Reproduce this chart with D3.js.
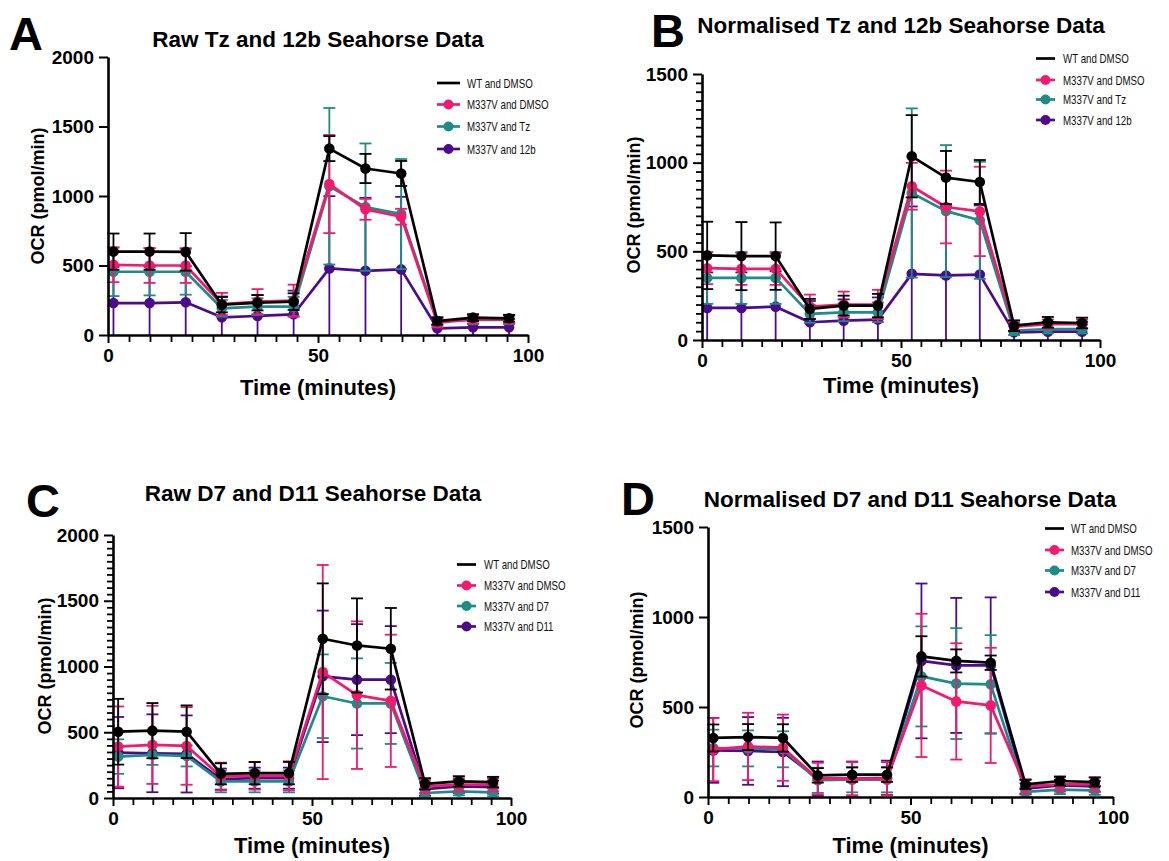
<!DOCTYPE html>
<html>
<head>
<meta charset="utf-8">
<script src="https://cdn.jsdelivr.net/npm/d3@7"></script>
<style>
  body { margin: 0; background: #fff; }
  svg { display: block; }
  text { font-family: "Liberation Sans", Arial, Helvetica, sans-serif; }
</style>
</head>
<body>
<svg id="fig" width="1169" height="861"></svg>
<script>
// Measurement times (minutes)
const times = [1.3, 9.9, 18.5, 27.1, 35.6, 44.2, 52.7, 61.3, 69.8, 78.4, 86.9, 95.5];

// A: raw OCR, Tz / 12b experiment (mean and error)
const aWt      = [600, 600, 598, 218, 232, 240, 1341, 1198, 1162, 100, 125, 120];
const aWtErr   = [130, 130, 135, 55, 55, 60, 90, 105, 90, 25, 25, 25];
const aDmso    = [505, 500, 500, 223, 240, 247, 1086, 904, 851, 89, 113, 113];
const aDmsoErr = [125, 125, 125, 80, 90, 115, 353, 75, 57, 35, 30, 30];
const aTz      = [455, 455, 455, 192, 204, 204, 1070, 920, 870, 100, 108, 108];
const aTzErr   = [175, 170, 165, 60, 60, 70, 563, 458, 396, 30, 30, 30];
const a12b     = [230, 230, 235, 127, 137, 149, 479, 462, 472, 48, 55, 55];
const a12bErr  = [260, 260, 260, 150, 150, 170, 520, 525, 522, 60, 60, 60];

// B: normalised OCR, Tz / 12b experiment
const bWt      = [477, 473, 473, 175, 194, 194, 1036, 916, 891, 81, 100, 96];
const bWtErr   = [190, 192, 190, 57, 56, 66, 232, 150, 124, 30, 30, 30];
const bDmso    = [405, 401, 401, 188, 200, 200, 867, 750, 725, 75, 90, 90];
const bDmsoErr = [90, 90, 90, 68, 73, 83, 132, 205, 252, 25, 25, 25];
const bTz      = [350, 350, 350, 147, 156, 156, 829, 727, 675, 53, 62, 62];
const bTzErr   = [146, 146, 146, 50, 50, 55, 477, 372, 330, 25, 25, 25];
const b12b     = [181, 181, 188, 100, 109, 115, 373, 364, 369, 43, 47, 47];
const b12bErr  = [200, 200, 200, 120, 120, 125, 380, 390, 390, 55, 55, 55];

// C: raw OCR, D7 / D11 experiment
const cWt      = [504, 512, 504, 184, 189, 189, 1211, 1160, 1135, 108, 126, 121];
const cWtErr   = [250, 210, 200, 80, 85, 85, 421, 358, 310, 43, 40, 40];
const cDmso    = [391, 404, 396, 164, 169, 169, 958, 782, 739, 88, 101, 101];
const cDmsoErr = [305, 297, 295, 105, 105, 110, 814, 561, 503, 50, 50, 50];
const cD7      = [315, 328, 320, 126, 126, 126, 774, 719, 719, 38, 50, 43];
const cD7Err   = [131, 76, 80, 83, 83, 83, 318, 343, 308, 30, 30, 30];
const cD11     = [345, 340, 335, 144, 151, 151, 925, 900, 900, 68, 88, 83];
const cD11Err  = [271, 296, 293, 80, 80, 80, 500, 422, 407, 50, 50, 50];

// D: normalised OCR, D7 / D11 experiment
const dWt      = [328, 333, 328, 120, 124, 124, 781, 756, 746, 70, 89, 83];
const dWtErr   = [75, 72, 76, 40, 40, 40, 112, 64, 40, 25, 25, 25];
const dDmso    = [263, 281, 274, 102, 102, 102, 620, 531, 509, 59, 70, 70];
const dDmsoErr = [175, 187, 184, 88, 92, 92, 398, 323, 320, 40, 40, 40];
const dD7      = [272, 270, 265, 93, 96, 96, 670, 630, 626, 28, 41, 37];
const dD7Err   = [102, 100, 100, 70, 70, 70, 278, 308, 273, 25, 25, 25];
const dD11     = [259, 256, 250, 102, 102, 107, 756, 731, 731, 46, 65, 59];
const dD11Err  = [180, 188, 190, 95, 95, 95, 430, 375, 378, 30, 30, 30];

// Labels and ticks
const legendTz = ["WT and DMSO", "M337V and DMSO", "M337V and Tz", "M337V and 12b"];
const legendD  = ["WT and DMSO", "M337V and DMSO", "M337V and D7", "M337V and D11"];
const xTicks = [0, 50, 100];
const yTicksRaw = [0, 500, 1000, 1500, 2000];
const yTicksNorm = [0, 500, 1000, 1500];
const colors = ["#000000", "#f2196e", "#1d8b86", "#4a0b8c"];

const panels = [
  { letter: "A", title: "Raw Tz and 12b Seahorse Data",
    means: [aWt, aDmso, aTz, a12b], errs: [aWtErr, aDmsoErr, aTzErr, a12bErr],
    labels: legendTz, yMax: 2000, yTicks: yTicksRaw, yMinor: false,
    x0: 108, x1: 528, y0: 335, y1: 57,
    titleX: 318, titleY: 47, letterX: 9, letterY: 50, xLabY: 395, yLabX: 44, yLabY: 196,
    leg: { x0: 437, x1: 460, tx: 467, ys: [83, 104.5, 126.5, 149] } },
  { letter: "B", title: "Normalised Tz and 12b Seahorse Data",
    means: [bWt, bDmso, bTz, b12b], errs: [bWtErr, bDmsoErr, bTzErr, b12bErr],
    labels: legendTz, yMax: 1500, yTicks: yTicksNorm, yMinor: true,
    x0: 702, x1: 1100, y0: 340, y1: 74,
    titleX: 901, titleY: 33, letterX: 651, letterY: 47, xLabY: 393, yLabX: 640, yLabY: 205,
    leg: { x0: 1036, x1: 1055, tx: 1063, ys: [58.5, 80, 99.5, 120] } },
  { letter: "C", title: "Raw D7 and D11 Seahorse Data",
    means: [cWt, cDmso, cD7, cD11], errs: [cWtErr, cDmsoErr, cD7Err, cD11Err],
    labels: legendD, yMax: 2000, yTicks: yTicksRaw, yMinor: true,
    x0: 113, x1: 511, y0: 798, y1: 535,
    titleX: 313, titleY: 501, letterX: 26, letterY: 517, xLabY: 853, yLabX: 51, yLabY: 666,
    leg: { x0: 457, x1: 476, tx: 484, ys: [564.5, 585.5, 606, 626.5] } },
  { letter: "D", title: "Normalised D7 and D11 Seahorse Data",
    means: [dWt, dDmso, dD7, dD11], errs: [dWtErr, dDmsoErr, dD7Err, dD11Err],
    labels: legendD, yMax: 1500, yTicks: yTicksNorm, yMinor: false,
    x0: 708, x1: 1113, y0: 797, y1: 527,
    titleX: 910, titleY: 507, letterX: 621, letterY: 515, xLabY: 853, yLabX: 643, yLabY: 660,
    leg: { x0: 1045, x1: 1064, tx: 1071, ys: [528.5, 550, 570.5, 592] } }
];

const svg = d3.select("#fig");

function drawPanel(p) {
  const x = d3.scaleLinear().domain([0, 100]).range([p.x0, p.x1]);
  const y = d3.scaleLinear().domain([0, p.yMax]).range([p.y0, p.y1]);
  const g = svg.append("g");

  // Clip so error bars stop at the x axis
  const clipId = "clip" + p.letter;
  svg.append("clipPath").attr("id", clipId).append("rect")
    .attr("x", p.x0 - 20).attr("y", p.y1 - 60)
    .attr("width", p.x1 - p.x0 + 40).attr("height", p.y0 - p.y1 + 60);
  const plot = g.append("g").attr("clip-path", `url(#${clipId})`);

  // Series drawn back to front so WT sits on top
  for (let s = p.means.length - 1; s >= 0; s--) {
    const pts = times.map((t, i) => ({ t, m: p.means[s][i], e: p.errs[s][i] }));
    const col = colors[s];
    const sg = plot.append("g");
    const eb = sg.append("g").attr("stroke", col).attr("stroke-width", 1.8).attr("fill", "none");
    eb.selectAll("line.v").data(pts).join("line").attr("class", "v")
      .attr("x1", d => x(d.t)).attr("x2", d => x(d.t))
      .attr("y1", d => y(d.m - d.e)).attr("y2", d => y(d.m + d.e));
    eb.selectAll("line.top").data(pts).join("line").attr("class", "top")
      .attr("x1", d => x(d.t) - 6).attr("x2", d => x(d.t) + 6)
      .attr("y1", d => y(d.m + d.e)).attr("y2", d => y(d.m + d.e));
    eb.selectAll("line.bot").data(pts).join("line").attr("class", "bot")
      .attr("x1", d => x(d.t) - 6).attr("x2", d => x(d.t) + 6)
      .attr("y1", d => y(d.m - d.e)).attr("y2", d => y(d.m - d.e));
    sg.append("path").datum(pts)
      .attr("fill", "none").attr("stroke", col).attr("stroke-width", 2.7)
      .attr("stroke-linejoin", "round")
      .attr("d", d3.line().x(d => x(d.t)).y(d => y(d.m)));
    sg.selectAll("circle").data(pts).join("circle")
      .attr("cx", d => x(d.t)).attr("cy", d => y(d.m)).attr("r", 5.3).attr("fill", col);
  }

  // Y axis
  const yAxis = g.append("g").attr("transform", `translate(${p.x0},0)`)
    .call(d3.axisLeft(y).tickValues(p.yTicks).tickSize(9).tickPadding(5).tickSizeOuter(0).tickFormat(d3.format("d")));
  if (p.yMinor) {
    const minor = d3.range(0, p.yMax, 50).filter(v => v % 500 !== 0);
    g.append("g").attr("transform", `translate(${p.x0},0)`)
      .call(d3.axisLeft(y).tickValues(minor).tickSize(6).tickFormat(""))
      .call(a => a.select(".domain").remove())
      .selectAll("line").attr("stroke-width", 1.8);
  }
  // X axis
  const xAxis = g.append("g").attr("transform", `translate(0,${p.y0})`)
    .call(d3.axisBottom(x).tickValues(xTicks).tickSize(8).tickPadding(6).tickSizeOuter(0));
  g.append("g").attr("transform", `translate(0,${p.y0})`)
    .call(d3.axisBottom(x).tickValues(d3.range(5, 100, 5).filter(v => v !== 50)).tickSize(7).tickFormat(""))
    .call(a => a.select(".domain").remove())
    .selectAll("line").attr("stroke-width", 1.8);

  [yAxis, xAxis].forEach(a => {
    a.select(".domain").attr("stroke-width", 2.6).attr("stroke", "#000");
    a.selectAll(".tick line").attr("stroke-width", 2).attr("stroke", "#000");
    a.selectAll(".tick text").attr("font-size", 19).attr("font-weight", "bold")
      .attr("fill", "#000").style("font-family", '"Liberation Sans", Arial, sans-serif');
  });

  // Titles and labels
  g.append("text").attr("x", p.titleX).attr("y", p.titleY).attr("text-anchor", "middle")
    .attr("font-size", 22.5).attr("font-weight", "bold").text(p.title);
  g.append("text").attr("x", p.letterX).attr("y", p.letterY)
    .attr("font-size", 47).attr("font-weight", "bold").text(p.letter);
  g.append("text").attr("x", (p.x0 + p.x1) / 2).attr("y", p.xLabY).attr("text-anchor", "middle")
    .attr("font-size", 22).attr("font-weight", "bold").text("Time (minutes)");
  g.append("text").attr("transform", `translate(${p.yLabX},${p.yLabY}) rotate(-90)`)
    .attr("text-anchor", "middle").attr("font-size", 18).attr("font-weight", "bold")
    .text("OCR (pmol/min)");

  // Legend (narrow lettering)
  const lg = g.append("g");
  p.labels.forEach((lab, i) => {
    const yy = p.leg.ys[i];
    lg.append("line").attr("x1", p.leg.x0).attr("x2", p.leg.x1).attr("y1", yy).attr("y2", yy)
      .attr("stroke", colors[i]).attr("stroke-width", 2.7);
    if (i > 0) {
      lg.append("circle").attr("cx", (p.leg.x0 + p.leg.x1) / 2).attr("cy", yy).attr("r", 5)
        .attr("fill", colors[i]);
    }
    lg.append("text").attr("transform", `translate(${p.leg.tx},${yy}) scale(0.76,1)`)
      .attr("dy", "0.36em").attr("font-size", 12.8).attr("fill", "#111").text(lab);
  });
}

panels.forEach(drawPanel);
</script>
</body>
</html>
